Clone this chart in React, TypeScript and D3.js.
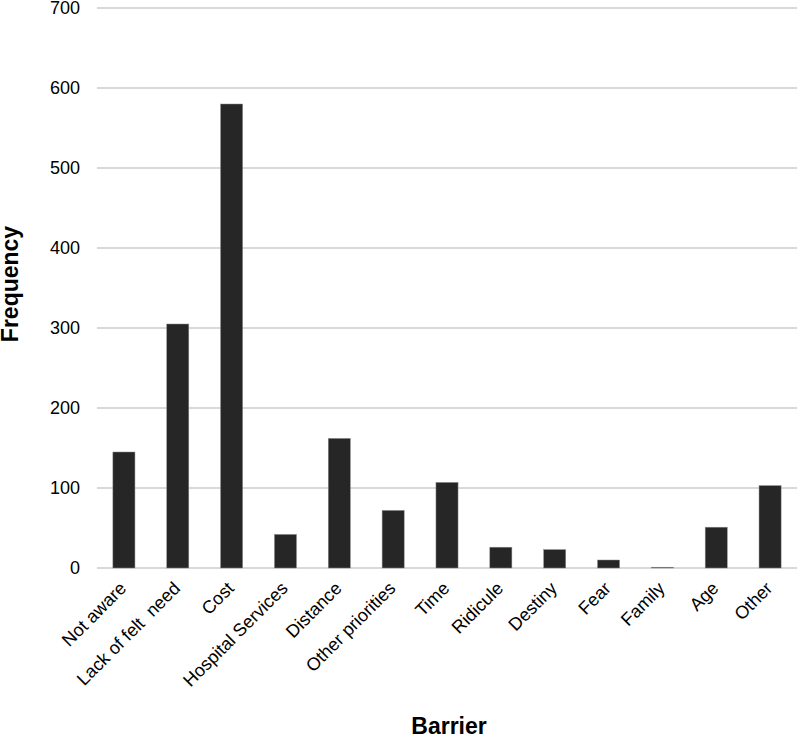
import React, { useEffect, useRef } from 'react';
import * as d3 from 'd3';

const barriers = [
  'Not aware',
  'Lack of felt  need',
  'Cost',
  'Hospital Services',
  'Distance',
  'Other priorities',
  'Time',
  'Ridicule',
  'Destiny',
  'Fear',
  'Family',
  'Age',
  'Other',
];
const frequency = [145, 305, 580, 42, 162, 72, 107, 26, 23, 10, 1, 51, 103];
const yTicks = [0, 100, 200, 300, 400, 500, 600, 700];

const width = 800;
const height = 737;
const margin = { top: 8, right: 3, bottom: 169, left: 97 };

const App: React.FC = () => {
  const svgRef = useRef<SVGSVGElement>(null);

  useEffect(() => {
    if (!svgRef.current) return;
    const svg = d3.select(svgRef.current);
    svg.selectAll('*').remove();

    const innerWidth = width - margin.left - margin.right;
    const innerHeight = height - margin.top - margin.bottom;
    const font = 'Liberation Sans, Arial, Helvetica, sans-serif';

    const x = d3.scaleBand<string>().domain(barriers).range([0, innerWidth]).paddingInner(0.59).paddingOuter(0.295);
    const y = d3.scaleLinear().domain([0, 700]).range([innerHeight, 0]);

    const g = svg.append('g').attr('transform', `translate(${margin.left},${margin.top})`);

    // grid lines
    g.selectAll('.grid')
      .data(yTicks)
      .enter()
      .append('line')
      .attr('x1', 0)
      .attr('x2', innerWidth)
      .attr('y1', (d) => y(d))
      .attr('y2', (d) => y(d))
      .attr('stroke', '#d9d9d9')
      .attr('stroke-width', 1.8);

    // y tick labels
    g.selectAll('.ytick')
      .data(yTicks)
      .enter()
      .append('text')
      .attr('x', -17)
      .attr('y', (d) => y(d))
      .attr('dy', '0.35em')
      .attr('text-anchor', 'end')
      .attr('font-family', font)
      .attr('font-size', 18)
      .attr('fill', '#000')
      .text((d) => d);

    // bars
    g.selectAll('.bar')
      .data(frequency)
      .enter()
      .append('rect')
      .attr('x', (d, i) => x(barriers[i])!)
      .attr('y', (d) => y(d))
      .attr('width', x.bandwidth())
      .attr('height', (d) => y(0) - y(d))
      .attr('fill', '#262626')
      .attr('stroke', '#8c8c8c')
      .attr('stroke-width', 0.5);

    // x tick labels
    g.selectAll('.xtick')
      .data(barriers)
      .enter()
      .append('text')
      .attr('transform', (d) => `translate(${x(d)! + x.bandwidth() / 2 - 1},${innerHeight + 17}) rotate(-45)`)
      .attr('text-anchor', 'end')
      .attr('dy', '0.35em')
      .attr('font-family', font)
      .attr('font-size', 18)
      .attr('fill', '#000')
      .style('white-space', 'pre')
      .text((d) => d);

    // axis titles
    svg.append('text')
      .attr('transform', `translate(18,${margin.top + innerHeight / 2 - 4}) rotate(-90)`)
      .attr('text-anchor', 'middle')
      .attr('font-family', font)
      .attr('font-size', 23)
      .attr('font-weight', 'bold')
      .text('Frequency');

    svg.append('text')
      .attr('x', margin.left + innerWidth / 2 + 2)
      .attr('y', 734)
      .attr('text-anchor', 'middle')
      .attr('font-family', font)
      .attr('font-size', 23)
      .attr('font-weight', 'bold')
      .text('Barrier');
  }, []);

  return <svg ref={svgRef} width={width} height={height} style={{ position: 'absolute', left: 0, top: 0, background: '#fff' }} />;
};

export default App;
